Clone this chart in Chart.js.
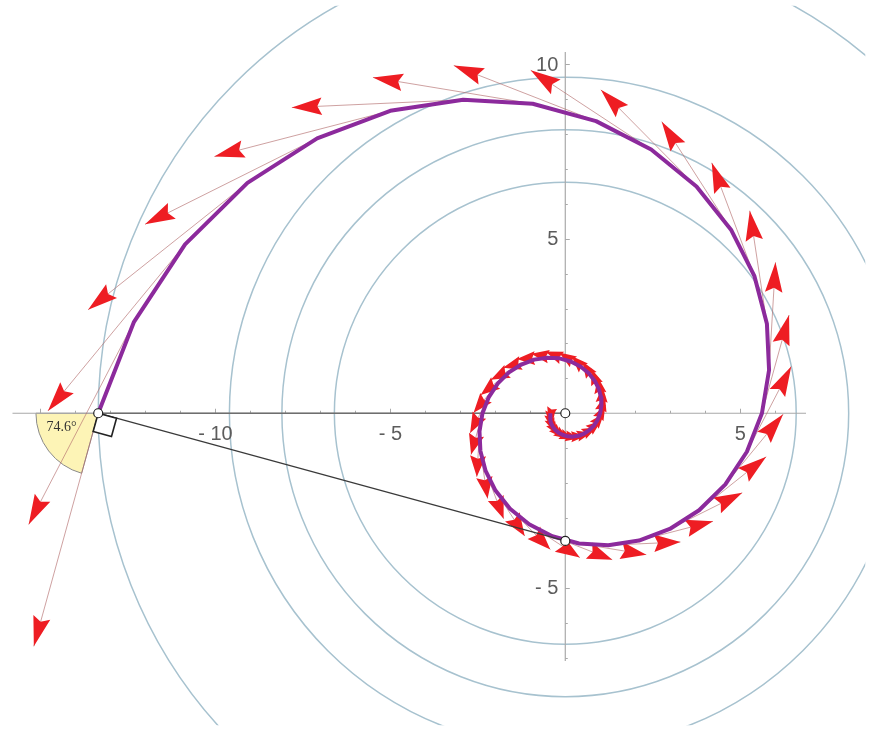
<!DOCTYPE html>
<html><head><meta charset="utf-8">
<script src="https://cdn.jsdelivr.net/npm/chart.js@4.4.0/dist/chart.umd.min.js"></script>
<style>html,body{margin:0;padding:0;background:#fff;overflow:hidden}</style>
</head><body>
<canvas id="c" width="871" height="731"></canvas>
<script>
// ---------------- data ----------------
const spiralAngleDeg = [180,168,156,144,132,120,108,96,84,72,60,48,36,24,12,0,-12,-24,-36,-48,-60,-72,-84,-96,-108,-120,-132,-144,-156,-168,-180,-192,-204,-216,-228,-240,-252,-264,-276,-288,-300,-312,-324,-336,-348,-360,-372,-384,-396,-408,-420,-432,-444,-456,-468,-480,-492,-504,-516,-528,-540];
const spiralRadius = [13.35,12.602,11.896,11.229,10.600,10.006,9.445,8.916,8.416,7.945,7.500,7.079,6.683,6.308,5.955,5.621,5.306,5.009,4.728,4.463,4.213,3.977,3.754,3.544,3.345,3.158,2.981,2.814,2.656,2.507,2.367,2.234,2.109,1.991,1.879,1.774,1.674,1.581,1.492,1.408,1.329,1.255,1.185,1.118,1.056,0.996,0.941,0.888,0.838,0.791,0.747,0.705,0.665,0.628,0.593,0.560,0.528,0.499,0.471,0.444,0.420];
const tangentAngleDeg = 74.6;          // angle between radius and tangent
const arrowLengthRatio = 0.519;        // tangent arrow length / radius
const circleRadii = [6.6, 8.1, 9.6, 13.35];
const normalFoot = [0, -3.66];
const xAxisExtent = [-15.8, 6.88];
const yAxisExtent = [-7.1, 10.35];
const xTickValues = [-15,-14,-13,-12,-11,-10,-9,-8,-7,-6,-5,-4,-3,-2,-1,1,2,3,4,5,6];
const yTickValues = [-7,-6,-5,-4,-3,-2,-1,1,2,3,4,5,6,7,8,9,10];
const xLabelValues = [-10, -5, 5];
const xLabelTexts  = ['- 10', '- 5', '5'];
const yLabelValues = [10, 5, -5];
const yLabelTexts  = ['10', '5', '- 5'];
const angleLabel = '74.6\u00B0';
const sectorRadius = 1.78;

// ---------------- view ----------------
const view = { xMin: -15.994, xMax: 8.575, yMin: -8.942, yMax: 11.678 };

const rad = d => d * Math.PI / 180;
const spiralPts = spiralAngleDeg.map((a, i) => ({ x: spiralRadius[i] * Math.cos(rad(a)), y: spiralRadius[i] * Math.sin(rad(a)) }));
const arrowEnds = spiralAngleDeg.map((a, i) => {
  const L = arrowLengthRatio * spiralRadius[i], d = rad(a + tangentAngleDeg);
  return { x: spiralPts[i].x + L * Math.cos(d), y: spiralPts[i].y + L * Math.sin(d) };
});
const shaftData = [];
spiralPts.forEach((p, i) => { shaftData.push(p, arrowEnds[i], { x: null, y: null }); });
const P0 = spiralPts[0];
const foot = { x: normalFoot[0], y: normalFoot[1] };

const AXIS = '#a9a9a9';
const decor = {
  id: 'decor',
  afterDatasetDraw(chart, args) {
    const lbl = chart.data.datasets[args.index].label;
    const ctx = chart.ctx, xs = chart.scales.x, ys = chart.scales.y;
    const px = p => ({ x: xs.getPixelForValue(p.x), y: ys.getPixelForValue(p.y) });
    const unit = Math.abs(xs.getPixelForValue(1) - xs.getPixelForValue(0));
    ctx.save();
    if (lbl === 'circles') {
      const c = px(P0), o = px({ x: 0, y: 0 }), e = px(arrowEnds[0]);
      const aR = Math.atan2(c.y - o.y, c.x - o.x);
      const aT = Math.atan2(e.y - c.y, e.x - c.x);
      const R = sectorRadius * unit;
      ctx.beginPath();
      ctx.moveTo(c.x, c.y);
      ctx.arc(c.x, c.y, R, aT, aR, false);
      ctx.closePath();
      ctx.fillStyle = 'rgba(253,243,178,0.95)';
      ctx.fill();
      ctx.strokeStyle = '#8a8a8a';
      ctx.lineWidth = 1;
      ctx.stroke();
      ctx.fillStyle = '#333';
      ctx.font = '14px "Liberation Serif", "Times New Roman", serif';
      ctx.textAlign = 'center';
      ctx.textBaseline = 'middle';
      const la = rad(159), ld = 0.63 * R;
      ctx.fillText(angleLabel, c.x + ld * Math.cos(la), c.y + ld * Math.sin(la));
    }
    if (lbl === 'axis-y') {
      const o = px({ x: 0, y: 0 });
      ctx.strokeStyle = AXIS;
      ctx.lineWidth = 1;
      ctx.beginPath();
      xTickValues.forEach(v => {
        const x = Math.round(xs.getPixelForValue(v)) + 0.5;
        const len = v % 5 === 0 ? 4.5 : 2.5;
        ctx.moveTo(x, o.y); ctx.lineTo(x, o.y - len);
      });
      yTickValues.forEach(v => {
        const y = Math.round(ys.getPixelForValue(v)) + 0.5;
        const len = v % 5 === 0 ? 4.5 : 2.5;
        ctx.moveTo(o.x, y); ctx.lineTo(o.x + len, y);
      });
      ctx.stroke();
      ctx.fillStyle = '#5c5c5c';
      ctx.font = '20px "Liberation Sans", Arial, sans-serif';
      ctx.textAlign = 'center';
      ctx.textBaseline = 'middle';
      xLabelValues.forEach((v, i) => ctx.fillText(xLabelTexts[i], xs.getPixelForValue(v), o.y + 21));
      ctx.textAlign = 'right';
      yLabelValues.forEach((v, i) => ctx.fillText(yLabelTexts[i], o.x - 7, ys.getPixelForValue(v) + 1));
    }
    if (lbl === 'shafts') {
      ctx.fillStyle = '#ee1d23';
      spiralPts.forEach((p, i) => {
        const a = px(p), b = px(arrowEnds[i]);
        const dx = b.x - a.x, dy = b.y - a.y, len = Math.hypot(dx, dy);
        if (len < 0.5) return;
        const ux = dx / len, uy = dy / len, nx = -uy, ny = ux;
        const h = Math.min(30, 12 + 0.2 * len), w = Math.min(17.5, 0.76 * h);
        ctx.beginPath();
        ctx.moveTo(b.x, b.y);
        ctx.lineTo(b.x - ux * h + nx * w / 2, b.y - uy * h + ny * w / 2);
        ctx.lineTo(b.x - ux * h * 0.85, b.y - uy * h * 0.85);
        ctx.lineTo(b.x - ux * h - nx * w / 2, b.y - uy * h - ny * w / 2);
        ctx.closePath();
        ctx.fill();
      });
    }
    if (lbl === 'normal') {
      const c = px(P0), f = px(foot), e = px(arrowEnds[0]);
      let nx = f.x - c.x, ny = f.y - c.y; const nl = Math.hypot(nx, ny); nx /= nl; ny /= nl;
      let tx = e.x - c.x, ty = e.y - c.y; const tl = Math.hypot(tx, ty); tx /= tl; ty /= tl;
      const s = 19;
      ctx.beginPath();
      ctx.moveTo(c.x, c.y);
      ctx.lineTo(c.x + nx * s, c.y + ny * s);
      ctx.lineTo(c.x + nx * s + tx * s, c.y + ny * s + ty * s);
      ctx.lineTo(c.x + tx * s, c.y + ty * s);
      ctx.closePath();
      ctx.fillStyle = '#fff';
      ctx.fill();
      ctx.strokeStyle = '#222';
      ctx.lineWidth = 1.6;
      ctx.stroke();
    }
    ctx.restore();
  }
};

new Chart(document.getElementById('c'), {
  type: 'scatter',
  data: {
    datasets: [
      { label: 'markers', order: 0, data: [P0, foot, { x: 0, y: 0 }],
        pointRadius: 4.5, pointBackgroundColor: '#fff', pointBorderColor: '#222', pointBorderWidth: 1.2 },
      { label: 'normal', order: 2, showLine: true, data: [P0, foot],
        borderColor: '#3a3a3a', borderWidth: 1.3, pointRadius: 0 },
      { label: 'spiral', order: 3, showLine: true, data: spiralPts,
        borderColor: '#8c2a9c', borderWidth: 4, pointRadius: 0, tension: 0, borderJoinStyle: 'round' },
      { label: 'shafts', order: 4, showLine: true, spanGaps: false, data: shaftData,
        borderColor: 'rgba(180,110,110,0.65)', borderWidth: 1, pointRadius: 0 },
      { label: 'radius', order: 5, showLine: true, data: [P0, { x: 0, y: 0 }],
        borderColor: '#6e6e6e', borderWidth: 1.5, pointRadius: 0 },
      { label: 'axis-y', order: 6, showLine: true, data: [{ x: 0, y: yAxisExtent[0] }, { x: 0, y: yAxisExtent[1] }],
        borderColor: AXIS, borderWidth: 1.2, pointRadius: 0 },
      { label: 'axis-x', order: 7, showLine: true, data: [{ x: xAxisExtent[0], y: 0 }, { x: xAxisExtent[1], y: 0 }],
        borderColor: AXIS, borderWidth: 1.2, pointRadius: 0 },
      { label: 'circles', order: 8, data: circleRadii.map(r => ({ x: 0, y: 0, r })),
        pointRadius: c => { const xs = c.chart.scales.x; return Math.abs(xs.getPixelForValue(c.raw.r) - xs.getPixelForValue(0)); },
        pointBackgroundColor: 'rgba(0,0,0,0)', pointBorderColor: '#a7c2cf', pointBorderWidth: 1.5 }
    ]
  },
  options: {
    responsive: false, animation: false, devicePixelRatio: 1, events: [],
    layout: { padding: 0 },
    plugins: { legend: { display: false }, tooltip: { enabled: false } },
    scales: {
      x: { type: 'linear', display: false, min: view.xMin, max: view.xMax },
      y: { type: 'linear', display: false, min: view.yMin, max: view.yMax }
    }
  },
  plugins: [decor]
});
</script>
</body></html>
